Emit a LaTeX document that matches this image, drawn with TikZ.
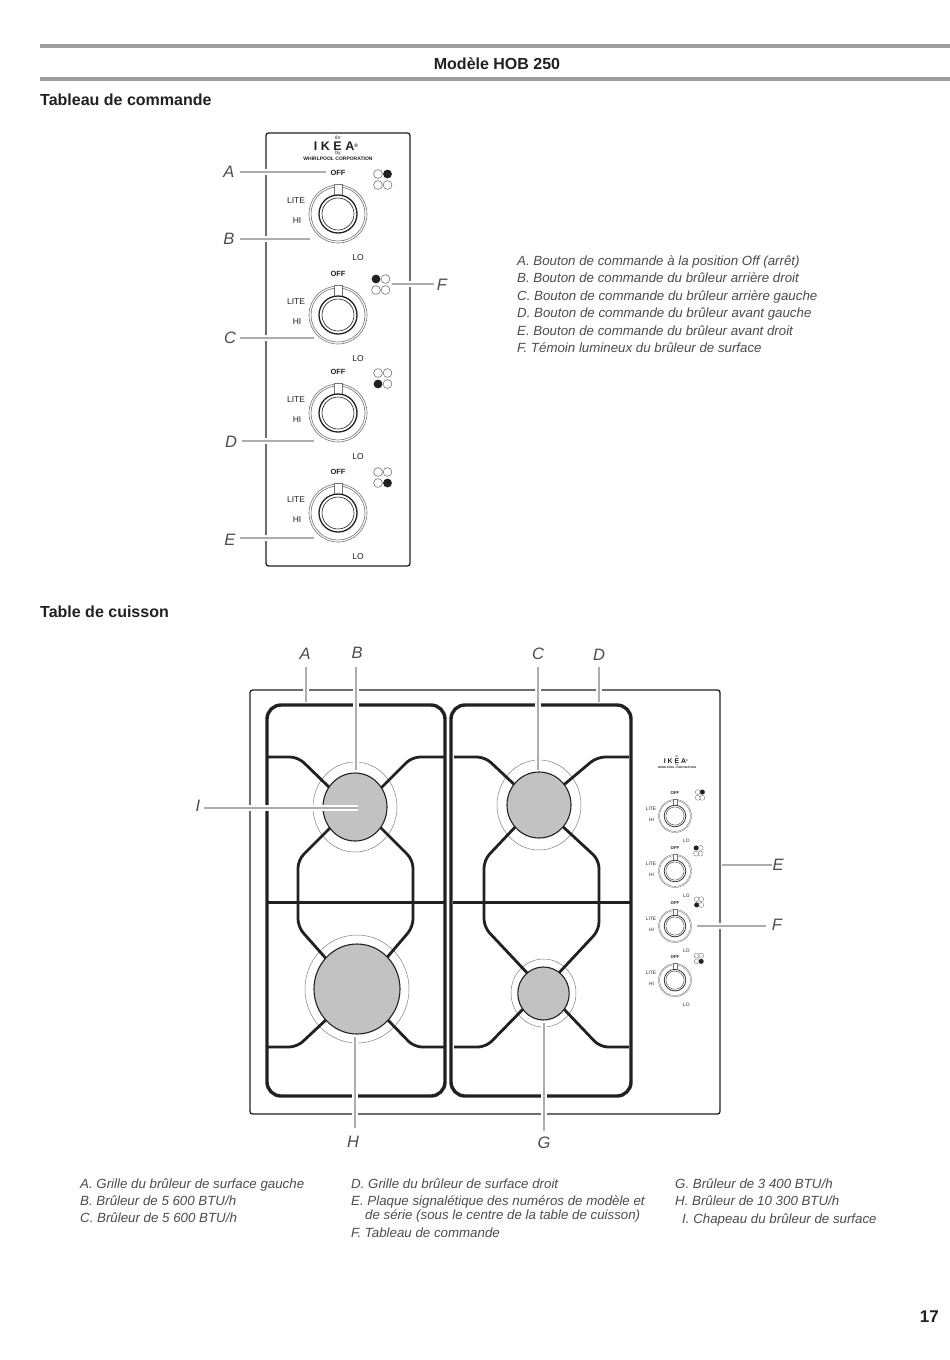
\documentclass[tikz,border=0pt]{standalone}
\usepackage{fontspec}
\setmainfont{Liberation Sans}
\definecolor{ink}{gray}{0.13}
\definecolor{leadgray}{gray}{0.68}
\definecolor{ringgray}{gray}{0.45}
\definecolor{bandgray}{gray}{0.62}
\definecolor{burnergray}{gray}{0.76}
\definecolor{captiongray}{gray}{0.3}
\tikzset{
  x=1pt,y=-1pt,
  heading/.style={font=\fontsize{16}{20}\selectfont\bfseries,text=ink,inner sep=0pt,anchor=base west},
  caption/.style={font=\fontsize{13.3}{15}\selectfont\itshape,text=captiongray,inner sep=0pt,anchor=base west},
  letter/.style={font=\fontsize{16.5}{18}\selectfont\itshape,text=captiongray,inner sep=0pt},
  panellabel/.style={font=\fontsize{8.5}{10}\selectfont,text=ink,inner sep=0pt},
  panelbold/.style={font=\fontsize{7.5}{9}\selectfont\bfseries,text=ink,inner sep=0pt},
  leader/.style={draw=leadgray,line width=1.1pt,preaction={draw=white,line width=6pt}},
  frame/.style={draw=ink,line width=1.3pt,rounded corners=2.5pt},
  grate/.style={draw=ink,line width=3.4pt,rounded corners=14pt},
  wire/.style={draw=ink,line width=2.8pt,rounded corners=8pt},
  burner/.style={draw=ink,line width=1.1pt,fill=burnergray},
  ring/.style={draw=gray,line width=0.5pt},
}
\newcommand{\knobunit}[8]{% id, cx, cy, lights x, lights y, filled index, light dx, light dy
  \begin{scope}[shift={(#2,#3)}]
    \draw[draw=ringgray,line width=\ringw] (0,0) circle[radius=29];
    \draw[draw=ringgray,line width=\ringw] (0,0) circle[radius=27];
    \fill[white] (-4,-19) rectangle (4,-30);
    \draw[draw=ringgray,line width=\ringw] (-4,-19) -- (-4,-30) -- (4,-30) -- (4,-19);
    \draw[draw=ink,line width=\ringh] (0,0) circle[radius=19];
    \draw[draw=ink,line width=\ringw] (0,0) circle[radius=16];
    \node[panelbold,transform shape] (#1off) at (0,-41) {OFF};
    \node[panellabel,transform shape] (#1lite) at (-42,-13) {LITE};
    \node[panellabel,transform shape] (#1hi) at (-41,7) {HI};
    \node[panellabel,transform shape] (#1lo) at (20,44) {LO};
  \end{scope}
  \foreach \i/\a/\b in {1/0/0,2/#7/0,3/0/#8,4/#7/#8}{
    \ifnum\i=#6\relax
      \fill[ink] (#4+\a,#5+\b) circle[radius=4.4];
    \else
      \draw[draw=ringgray,line width=\ringw] (#4+\a,#5+\b) circle[radius=4.4];
    \fi
  }
}
\newcommand{\logounit}[3]{% id, cx, cy
  \begin{scope}[shift={(#2,#3)}]
    \node[font=\fontsize{5}{6}\selectfont\itshape,text=ink,inner sep=0pt,transform shape] (#1for) at (0,-14) {for};
    \node[font=\fontsize{12.5}{14}\selectfont\bfseries,text=ink,inner sep=0pt,transform shape] (#1ikea) at (-2,-6) {I\hspace{3.5pt}K\hspace{3.5pt}E\hspace{3.5pt}A\raisebox{3pt}{\fontsize{5}{5}\selectfont®}};
    \node[font=\fontsize{5}{6}\selectfont,text=ink,inner sep=0pt,transform shape] (#1by) at (0,1.5) {by};
    \node[font=\fontsize{5}{6}\selectfont\bfseries,text=ink,inner sep=0pt,transform shape] (#1corp) at (0,7) {WHIRLPOOL CORPORATION};
  \end{scope}
}
\begin{document}
\begin{tikzpicture}
\useasboundingbox (0,0) rectangle (950,1360);
\fill[white] (0,0) rectangle (950,1360);
% header bands
\fill[bandgray] (40,44) rectangle (950,48);
\fill[bandgray] (40,77) rectangle (950,81);
\node[heading,anchor=base] (title) at (497,69) {Modèle HOB 250};
\node[heading] (h1) at (40,105) {Tableau de commande};
\node[heading] (h2) at (40,617) {Table de cuisson};
\node[font=\fontsize{17}{20}\selectfont\bfseries,text=ink,inner sep=0pt,anchor=base east] (pageno) at (939,1322) {17};
% control panel
\draw[frame] (266,133) rectangle (410,566);
\def\ringw{0.6pt}\def\ringh{1.3pt}
\logounit{pa}{338}{152}
\knobunit{ka}{338}{214}{378}{174}{2}{9.5}{11}
\knobunit{kb}{338}{315}{376}{279}{1}{9.5}{11}
\knobunit{kc}{338}{413}{378}{373}{3}{9.5}{11}
\knobunit{kd}{338}{513}{378}{472}{4}{9.5}{11}
% panel leaders
\node[letter] (pA) at (229,172) {A};
\node[letter] (pB) at (229,239) {B};
\node[letter] (pC) at (230,338) {C};
\node[letter] (pD) at (231,442) {D};
\node[letter] (pE) at (230,540) {E};
\node[letter] (pF) at (442,285) {F};
\coordinate (tA) at (326,172);
\coordinate (tB) at (310,239);
\coordinate (tC) at (314,338);
\coordinate (tD) at (314,441);
\coordinate (tE) at (314,538);
\coordinate (tF) at (392,284);
\draw[leader] (240,172) -- (tA);
\draw[leader] (240,239) -- (tB);
\draw[leader] (240,338) -- (tC);
\draw[leader] (242,441) -- (tD);
\draw[leader] (240,538) -- (tE);
\draw[leader] (tF) -- (434,284);
% panel captions
\node[caption] (c1) at (517,265) {A. Bouton de commande à la position Off (arrêt)};
\node[caption] (c2) at (517,282) {B. Bouton de commande du brûleur arrière droit};
\node[caption] (c3) at (517,300) {C. Bouton de commande du brûleur arrière gauche};
\node[caption] (c4) at (517,317) {D. Bouton de commande du brûleur avant gauche};
\node[caption] (c5) at (517,335) {E. Bouton de commande du brûleur avant droit};
\node[caption] (c6) at (517,352) {F. Témoin lumineux du brûleur de surface};
% cooktop
\draw[frame] (250,690) rectangle (720,1114);
\draw[grate] (267,705) rectangle (445,1096);
\draw[grate] (451,705) rectangle (631,1096);
\draw[draw=ink,line width=3pt] (267,902) -- (445,902);
\draw[draw=ink,line width=3pt] (453,902) -- (630,902);
% burner rings behind the wires
\draw[ring] (355,807) ellipse[x radius=42,y radius=45];
\draw[ring] (357,989) ellipse[x radius=52,y radius=54];
\draw[ring] (539,805) ellipse[x radius=42,y radius=45];
\draw[ring] (543.5,993) ellipse[x radius=32.5,y radius=34];
% left grate wires
\draw[wire] (267,757) -- (298,757) -- (332,790);
\draw[wire] (444,757) -- (412,757) -- (379,790);
\draw[wire] (332,826) -- (298,860) -- (298,927) -- (330,963);
\draw[wire] (379,826) -- (413,860) -- (413,927) -- (384,961);
\draw[wire] (329,1017) -- (297,1047) -- (267,1047);
\draw[wire] (385,1017) -- (414,1047) -- (444,1047);
% right grate wires
\draw[wire] (454,757) -- (485,757) -- (518,788);
\draw[wire] (629,757) -- (597,757) -- (560,788);
\draw[wire] (518,824) -- (484,860) -- (484,927) -- (530,976);
\draw[wire] (560,824) -- (599,860) -- (599,930) -- (556,976);
\draw[wire] (526,1006) -- (486,1047) -- (454,1047);
\draw[wire] (561,1006) -- (600,1047) -- (629,1047);
% burners
\draw[burner] (355,807) ellipse[x radius=32,y radius=34];
\draw[burner] (357,989) ellipse[x radius=43,y radius=45];
\draw[burner] (539,805) ellipse[x radius=32,y radius=33];
\draw[burner] (543.5,993.5) ellipse[x radius=25.7,y radius=26.5];
% small control panel
\def\ringw{0.35pt}\def\ringh{0.7pt}
\begin{scope}[shift={(677,764)},scale=0.55,transform shape]
  \logounit{sa}{0}{0}
\end{scope}
\begin{scope}[shift={(675,816)},scale=0.57,transform shape]
  \knobunit{sk1}{0}{0}{40}{-42}{2}{8}{10}
  \knobunit{sk2}{0}{96.5}{37}{56}{1}{8}{10}
  \knobunit{sk3}{0}{193}{38}{146}{3}{8}{10}
  \knobunit{sk4}{0}{288}{38}{245}{4}{8}{10}
\end{scope}
% cooktop leaders
\node[letter] (lA) at (305,654) {A};
\node[letter] (lB) at (357,653) {B};
\node[letter] (lC) at (538,654) {C};
\node[letter] (lD) at (599,655) {D};
\node[letter] (lI) at (198,806) {I};
\node[letter] (lH) at (353,1142) {H};
\node[letter] (lG) at (544,1143) {G};
\node[letter] (lE) at (778,865) {E};
\node[letter] (lF) at (777,925) {F};
\coordinate (gA) at (306,702);
\coordinate (gB) at (356,770);
\coordinate (gC) at (538,770);
\coordinate (gD) at (599,702);
\coordinate (gI) at (358,808);
\coordinate (gH) at (355,1037);
\coordinate (gG) at (544,1023);
\coordinate (gE) at (722,865);
\coordinate (gF) at (697,926);
\draw[leader] (306,667) -- (gA);
\draw[leader] (356,667) -- (gB);
\draw[leader] (538,667) -- (gC);
\draw[leader] (599,667) -- (gD);
\draw[leader] (204,808) -- (gI);
\draw[leader] (gH) -- (355,1128);
\draw[leader] (gG) -- (544,1131);
\draw[leader] (gE) -- (772,865);
\draw[leader] (gF) -- (766,926);
% bottom captions
\node[caption] (d1) at (80,1188) {A. Grille du brûleur de surface gauche};
\node[caption] (d2) at (80,1205) {B. Brûleur de 5 600 BTU/h};
\node[caption] (d3) at (80,1222) {C. Brûleur de 5 600 BTU/h};
\node[caption] (d4) at (351,1188) {D. Grille du brûleur de surface droit};
\node[caption] (d5) at (351,1205) {E. Plaque signalétique des numéros de modèle et};
\node[caption] (d6) at (365,1219) {de série (sous le centre de la table de cuisson)};
\node[caption] (d7) at (351,1237) {F. Tableau de commande};
\node[caption] (d8) at (675,1188) {G. Brûleur de 3 400 BTU/h};
\node[caption] (d9) at (675,1205) {H. Brûleur de 10 300 BTU/h};
\node[caption] (d10) at (682,1223) {I. Chapeau du brûleur de surface};
\end{tikzpicture}
\end{document}
